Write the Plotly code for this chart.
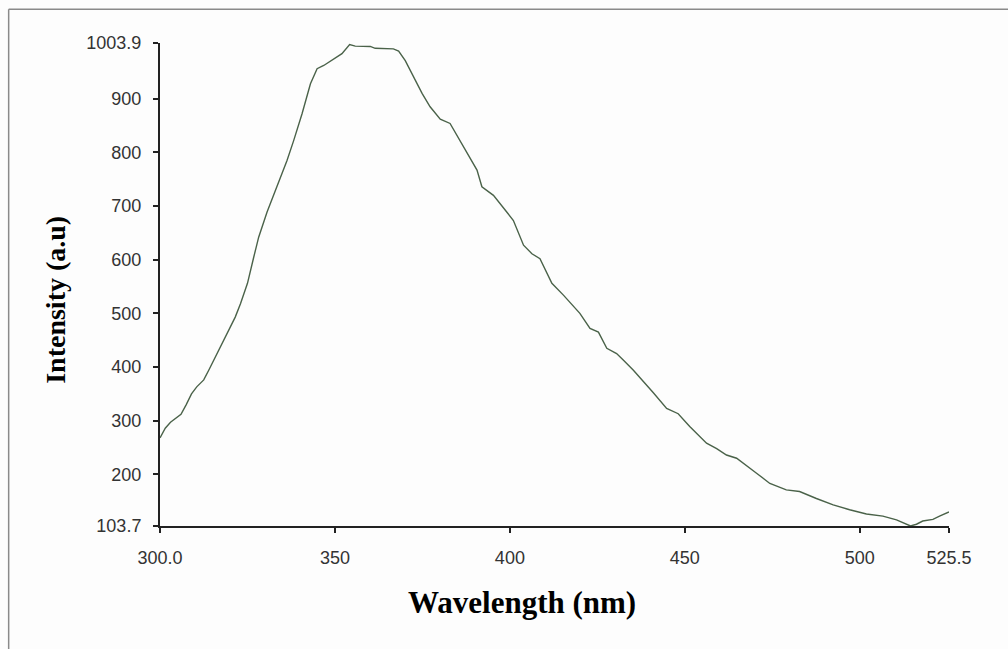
import plotly.graph_objects as go

wavelength = [300.0, 301.5, 303.0, 304.5, 306.0, 307.5, 309.0, 310.5, 312.5, 314.0,
              316.0, 318.0, 320.0, 321.5, 323.0, 325.0, 326.8, 328.2, 330.6, 333.5,
              336.3, 338.2, 340.6, 343.0, 344.9, 346.8, 350.1, 352.0, 354.2, 355.8,
              360.1, 361.5, 366.7, 368.2, 370.1, 372.5, 374.9, 377.2, 380.1, 382.9,
              385.8, 387.7, 390.6, 392.0, 395.3, 399.1, 401.0, 403.9, 406.3, 408.6,
              412.0, 415.3, 420.0, 422.9, 425.3, 427.7, 430.5, 432.4, 435.3, 441.0,
              444.8, 448.1, 451.4, 456.2, 459.1, 461.9, 464.8, 470.5, 474.3, 479.0,
              482.8, 487.6, 492.4, 497.1, 501.9, 506.6, 510.5, 514.5, 516.2, 518.0,
              520.9, 522.8, 525.5]
intensity = [268, 286, 297, 305, 312, 330, 350, 363, 376, 395,
             422, 448, 474, 493, 518, 556, 605, 642, 689, 739,
             785, 822, 872, 928, 956, 962, 975, 984, 1001, 998,
             997.5, 994, 993, 989, 971, 940, 910, 885, 862, 854,
             822, 801, 767, 736, 720, 689, 673, 627, 611, 602,
             556, 534, 500, 472, 465, 435, 425, 413, 394, 352,
             323, 313, 289, 258, 248, 236, 230, 202, 183, 171,
             168, 155, 143, 134, 126, 122, 115, 103.7, 107, 113,
             116, 122, 130]

x_ticks = [300.0, 350, 400, 450, 500, 525.5]
x_tick_text = ["300.0", "350", "400", "450", "500", "525.5"]
y_ticks = [103.7, 200, 300, 400, 500, 600, 700, 800, 900, 1003.9]
y_tick_text = ["103.7", "200", "300", "400", "500", "600", "700", "800", "900", "1003.9"]

x_title = "Wavelength (nm)"
y_title = "Intensity (a.u)"

fig = go.Figure()
fig.add_trace(go.Scatter(x=wavelength, y=intensity, mode="lines",
                         line=dict(color="#4a6249", width=1.4), showlegend=False))

tick_font = dict(family="Liberation Sans, Arial, sans-serif", size=18, color="#333333")
x_title_font = dict(family="Liberation Serif, Times New Roman, serif", size=31, color="#000000")
y_title_font = dict(family="Liberation Serif, Times New Roman, serif", size=28, color="#000000")

fig.update_layout(
    width=1008, height=649,
    margin=dict(l=159.5, r=58.5, t=42.7, b=123, pad=0),
    paper_bgcolor="#fdfdfd", plot_bgcolor="#fdfdfd",
    xaxis=dict(range=[300, 525.5], tickvals=x_ticks, ticktext=x_tick_text,
               showgrid=False, zeroline=False, showline=True, linecolor="#222222",
               linewidth=2, ticks="outside", ticklen=5, tickwidth=2, tickcolor="#222222",
               tickfont=tick_font, ticklabelstandoff=9),
    yaxis=dict(range=[103.7, 1003.9], tickvals=y_ticks, ticktext=y_tick_text,
               showgrid=False, zeroline=False, showline=True, linecolor="#222222",
               linewidth=2, ticks="outside", ticklen=5, tickwidth=2, tickcolor="#222222",
               tickfont=tick_font, ticklabelstandoff=8),
    annotations=[
        dict(text="<b>" + x_title + "</b>", xref="paper", yref="paper",
             x=0.459, y=-0.159, xanchor="center", yanchor="middle",
             showarrow=False, font=x_title_font),
        dict(text="<b>" + y_title + "</b>", xref="paper", yref="paper",
             x=-0.1335, y=0.4676, xanchor="center", yanchor="middle",
             textangle=-90, showarrow=False, font=y_title_font),
    ],
    shapes=[
        dict(type="line", xref="paper", yref="paper", x0=-0.1918, x1=1.08,
             y0=1.0697, y1=1.0697, line=dict(color="#8a8a8a", width=1.5)),
        dict(type="line", xref="paper", yref="paper", x0=-0.1918, x1=-0.1918,
             y0=1.0697, y1=-0.26, line=dict(color="#8a8a8a", width=1.5)),
    ],
)

fig.write_html("out.html")
